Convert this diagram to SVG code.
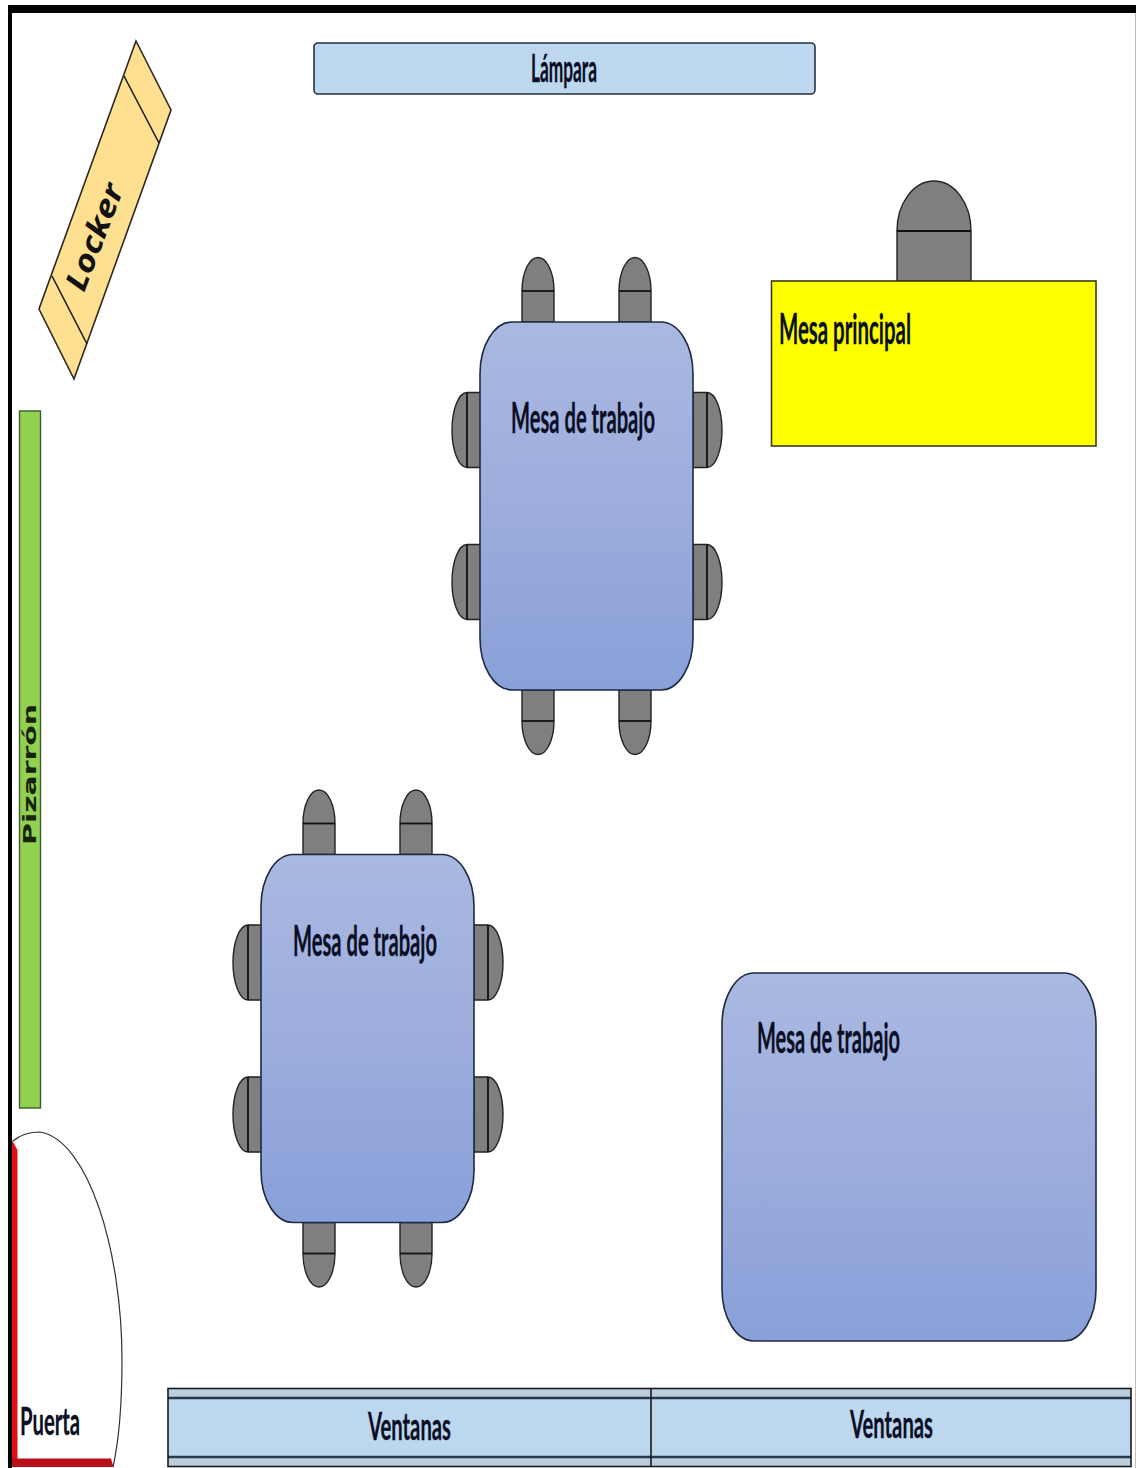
<svg xmlns="http://www.w3.org/2000/svg" xmlns:xlink="http://www.w3.org/1999/xlink" width="1136" height="1468" viewBox="0 0 1136 1468">
<style>
.lbl{font-family:"Lato","Open Sans","Liberation Sans",sans-serif;fill:#0a0f25;font-size:42px;font-weight:700;stroke:#0a0f25;stroke-width:.3}
.lbs{font-size:38px}
.ln{fill:none;stroke:#1c1c1c;stroke-width:1.6}
.chair{fill:#7f7f7f;stroke:#222;stroke-width:1.4}
.chairline{fill:none;stroke:#111;stroke-width:1.8}
.table{fill:url(#tableGrad);stroke:#1e2a44;stroke-width:1.6}
.glass{fill:#bdd7ee}
.band{fill:#bccddd}
.wline{fill:none;stroke:#26394e;stroke-width:2.600}
</style>
<defs>
<linearGradient id="tableGrad" x1="0" y1="0" x2="0" y2="1">
<stop offset="0" stop-color="#aab9e1"/><stop offset="0.45" stop-color="#9eaedd"/><stop offset="1" stop-color="#89a0d9"/>
</linearGradient>
<g id="chairV">
<path class="chair" d="M-16 0V-31A16 33.500 0 0 1 16 -31V0Z"/>
<path class="chairline" d="M-16 -31H16"/>
</g>
<g id="chairH">
<path class="chair" d="M0 -37.500H-14A15 37.500 0 0 0 -14 37.500H0Z"/>
<path class="chairline" d="M-14 -37.500V37.500"/>
</g>
<g id="workTable">
<use xlink:href="#chairV" href="#chairV" x="58" y="0"/>
<use xlink:href="#chairV" href="#chairV" x="155" y="0"/>
<use xlink:href="#chairV" href="#chairV" transform="translate(58 368) rotate(180)"/>
<use xlink:href="#chairV" href="#chairV" transform="translate(155 368) rotate(180)"/>
<use xlink:href="#chairH" href="#chairH" x="1" y="108"/>
<use xlink:href="#chairH" href="#chairH" x="1" y="260"/>
<use xlink:href="#chairH" href="#chairH" transform="translate(213 108) rotate(180)"/>
<use xlink:href="#chairH" href="#chairH" transform="translate(213 260) rotate(180)"/>
<rect class="table" x="0" y="0" width="213" height="368" rx="32" ry="52"/>
</g>
</defs>
<rect width="1136" height="1468" fill="#fff"/>
<g id="frame">
<rect x="8" y="5" width="1128" height="8" fill="#000"/>
<rect x="8" y="5" width="4" height="1463" fill="#000"/>
<rect x="1135" y="13" width="1" height="1455" fill="#bdbdbd"/>
</g>
<g id="lampara">
<rect x="314" y="43" width="501" height="51" rx="4" fill="#bdd7ee" stroke="#26323f" stroke-width="1.600"/>
<text class="lbl lbs" x="531" y="82" textLength="66" lengthAdjust="spacingAndGlyphs">Lámpara</text>
</g>
<g id="locker">
<path d="M136 41L171 110L74 379L39 309Z" fill="#ffdf90" stroke="#2a2a20" stroke-width="1.600"/>
<path class="ln" d="M124 76L159 143M52 276L87 344"/>
<text x="0" y="0" transform="translate(84 293) rotate(-69)" font-family="'Open Sans','Liberation Sans',sans-serif" font-size="30" font-style="italic" font-weight="700" fill="#111" textLength="112" lengthAdjust="spacingAndGlyphs">Locker</text>
</g>
<g id="pizarron">
<rect x="19.500" y="411" width="21" height="697" fill="#92d050" stroke="#3d5a30" stroke-width="1.400"/>
<text x="0" y="0" transform="translate(36 845) rotate(-90)" font-family="'DejaVu Sans',sans-serif" font-size="17" font-weight="700" fill="#17240c" textLength="141" lengthAdjust="spacingAndGlyphs">Pizarrón</text>
</g>
<g id="mesa-principal">
<path class="chair" d="M897 281V231A37 50 0 0 1 971 231V281Z"/>
<path class="chairline" d="M897 231H971"/>
<rect x="771.500" y="281" width="324.500" height="165" fill="#ffff00" stroke="#3a3a1a" stroke-width="1.600"/>
<text class="lbl" x="779" y="344" textLength="132" lengthAdjust="spacingAndGlyphs">Mesa principal</text>
</g>
<g id="mesa-trabajo-1">
<use xlink:href="#workTable" href="#workTable" x="480" y="322"/>
<text class="lbl" x="511" y="433" textLength="144" lengthAdjust="spacingAndGlyphs">Mesa de trabajo</text>
</g>
<g id="mesa-trabajo-2">
<use xlink:href="#workTable" href="#workTable" x="261" y="854.500"/>
<text class="lbl" x="293" y="956" textLength="144" lengthAdjust="spacingAndGlyphs">Mesa de trabajo</text>
</g>
<g id="mesa-trabajo-3">
<rect class="table" x="722" y="973" width="374" height="368" rx="32" ry="52"/>
<text class="lbl" x="757" y="1053" textLength="143" lengthAdjust="spacingAndGlyphs">Mesa de trabajo</text>
</g>
<g id="puerta">
<path d="M13 1141C20 1135 30 1132 40 1132C88 1140 122 1250 122 1360C122 1400 119 1440 113 1467" fill="none" stroke="#333" stroke-width="1.200"/>
<path d="M12 1140L17.500 1150V1460H12Z" fill="#dd1015"/>
<path d="M12 1458.500H111L113.500 1467H12Z" fill="#b80f18"/>
<text class="lbl lbs" x="20" y="1435" textLength="60" lengthAdjust="spacingAndGlyphs">Puerta</text>
</g>
<g id="ventanas">
<rect class="band" x="168" y="1388" width="963" height="79"/>
<rect class="glass" x="168" y="1398" width="963" height="59"/>
<path class="wline" d="M168 1398H1131M168 1457H1131"/>
<rect x="168" y="1388.500" width="963" height="78" fill="none" stroke="#1a1a1a" stroke-width="1.600"/>
<path d="M651 1388V1467" fill="none" stroke="#1a1a1a" stroke-width="1.600"/>
<text class="lbl lbs" x="368" y="1440" textLength="83" lengthAdjust="spacingAndGlyphs">Ventanas</text>
<text class="lbl lbs" x="850" y="1438" textLength="83" lengthAdjust="spacingAndGlyphs">Ventanas</text>
</g>
</svg>
